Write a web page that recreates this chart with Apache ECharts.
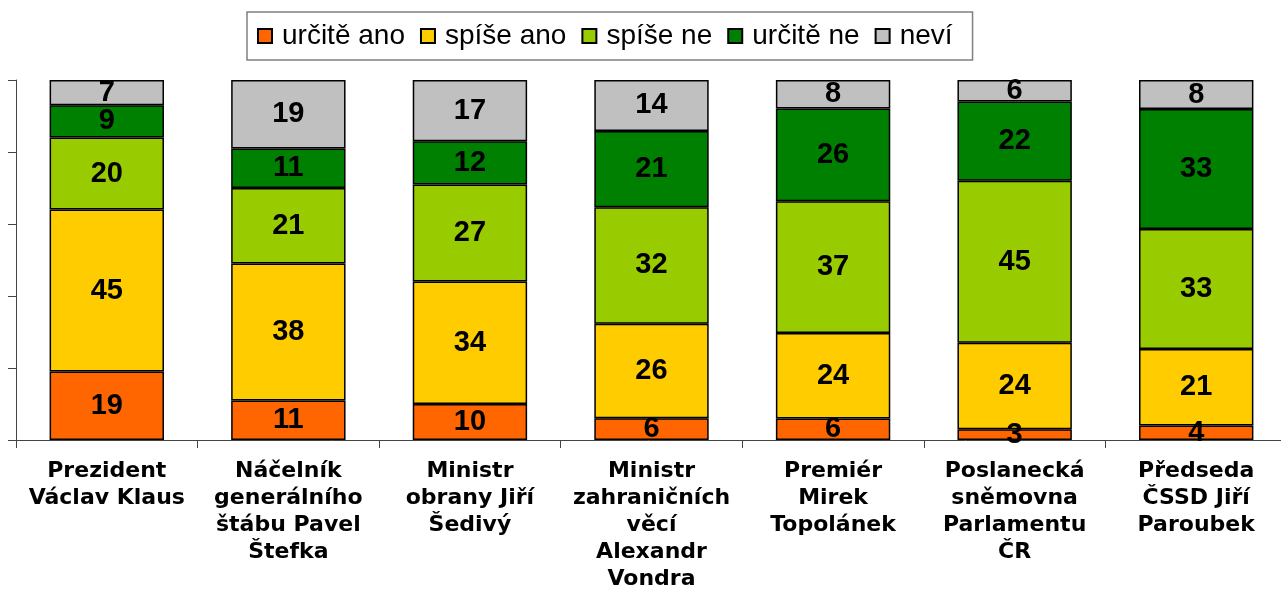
<!DOCTYPE html>
<html>
<head>
<meta charset="utf-8">
<script src="https://cdn.jsdelivr.net/npm/echarts@6/dist/echarts.min.js"></script>
<style>
  html, body { margin: 0; padding: 0; background: #fff; }
  #main { width: 1281px; height: 590px; }
</style>
</head>
<body>
<div id="main"></div>
<script>
  var categories = [
    'Prezident\nVáclav Klaus',
    'Náčelník\ngenerálního\nštábu Pavel\nŠtefka',
    'Ministr\nobrany Jiří\nŠedivý',
    'Ministr\nzahraničních\nvěcí\nAlexandr\nVondra',
    'Premiér\nMirek\nTopolánek',
    'Poslanecká\nsněmovna\nParlamentu\nČR',
    'Předseda\nČSSD Jiří\nParoubek'
  ]
  var seriesNames = ['určitě ano', 'spíše ano', 'spíše ne', 'určitě ne', 'neví']
  var urciteAno = [19, 11, 10, 6, 6, 3, 4]
  var spiseAno = [45, 38, 34, 26, 24, 24, 21]
  var spiseNe = [20, 21, 27, 32, 37, 45, 33]
  var urciteNe = [9, 11, 12, 21, 26, 22, 33]
  var nevi = [7, 19, 17, 14, 8, 6, 8]
  var colors = ['#FF6600', '#FFCC00', '#99CC00', '#008000', '#C0C0C0']

  var raw = [urciteAno, spiseAno, spiseNe, urciteNe, nevi]
  // bars are drawn as 100 % stacks, labels show the surveyed numbers
  var totals = categories.map(function (c, i) {
    return raw.reduce(function (s, arr) { return s + arr[i] }, 0)
  })

  var series = raw.map(function (arr, k) {
    return {
      name: seriesNames[k],
      type: 'bar',
      stack: 'total',
      barWidth: '63%',
      itemStyle: { color: colors[k], borderColor: '#000', borderWidth: 1.5 },
      label: {
        show: true,
        position: 'inside',
        color: '#000',
        fontFamily: 'Liberation Sans',
        fontWeight: 'bold',
        fontSize: 29,
        formatter: function (p) { return raw[p.seriesIndex][p.dataIndex] }
      },
      data: arr.map(function (v, i) { return v * 100 / totals[i] })
    }
  })

  var myChart = echarts.init(document.getElementById('main'))
  myChart.setOption({
    animation: false,
    legend: {
      data: seriesNames,
      left: 247,
      top: 12,
      padding: [10, 20, 10, 10],
      borderColor: '#808080',
      borderWidth: 1.5,
      itemWidth: 14,
      itemHeight: 14,
      itemGap: 15,
      icon: 'rect',
      textStyle: { fontFamily: 'Liberation Sans', fontSize: 28, color: '#000', padding: [0, 0, 0, 5] }
    },
    grid: { left: 16, top: 80, width: 1271, height: 360, outerBoundsMode: 'none', containLabel: false },
    xAxis: {
      type: 'category',
      data: categories,
      axisLine: { lineStyle: { color: '#444', width: 1 } },
      axisTick: { show: true, length: 8, lineStyle: { color: '#444' } },
      axisLabel: {
        interval: 0,
        margin: 18,
        color: '#000',
        fontFamily: 'DejaVu Sans',
        fontWeight: 'bold',
        fontSize: 22,
        lineHeight: 27
      }
    },
    yAxis: {
      type: 'value',
      min: 0,
      max: 100,
      interval: 20,
      axisLine: { show: true, lineStyle: { color: '#444', width: 1 } },
      axisTick: { show: true, length: 8, lineStyle: { color: '#444' } },
      axisLabel: { show: false },
      splitLine: { show: false }
    },
    series: series
  })
</script>
</body>
</html>
